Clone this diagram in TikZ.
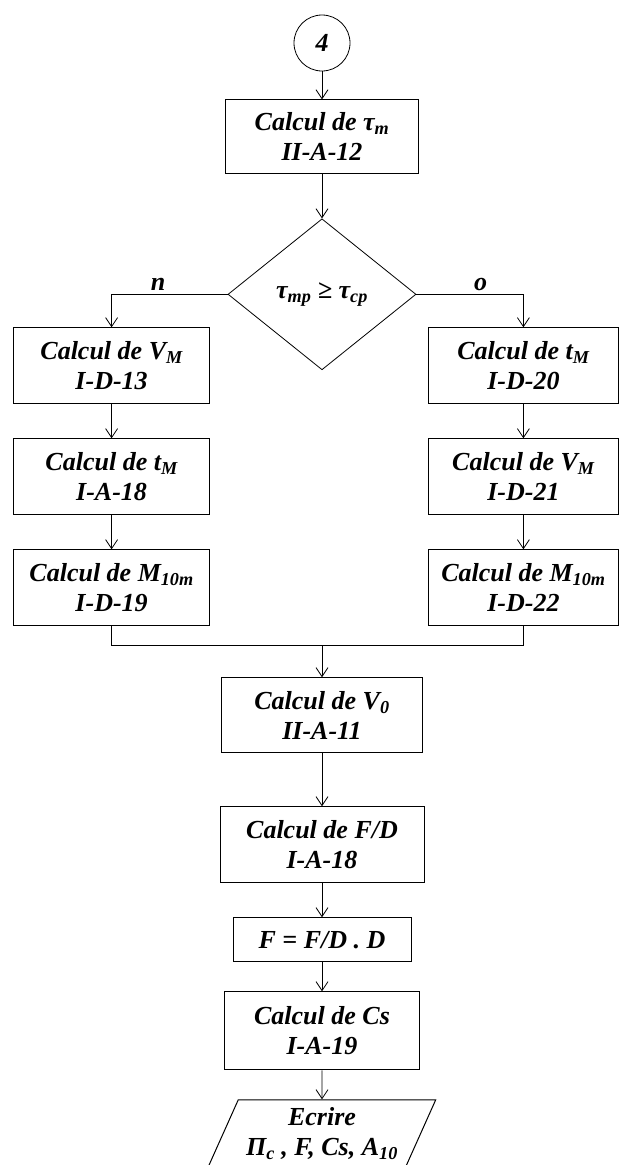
\documentclass[tikz,border=0pt]{standalone}
\usepackage{fontspec}
\setmainfont{Liberation Serif}
\usetikzlibrary{arrows.meta,positioning,shapes.geometric}

\begin{document}
\begin{tikzpicture}[
x=1pt, y=1pt,
font=\bfseries\itshape\fontsize{26}{30}\selectfont,
box/.style={draw, line width=1pt, align=center, minimum width=196pt, minimum height=76pt, inner sep=2pt},
decision/.style={draw, diamond, line width=0.8pt, minimum width=188pt, minimum height=151pt, inner sep=1pt},
io/.style={draw, trapezium, trapezium left angle=63, trapezium right angle=117, trapezium stretches=true, line width=1pt, align=center, minimum width=228pt, minimum height=67pt, inner sep=1pt},
conn/.style={draw, circle, line width=0.8pt, minimum size=56pt, inner sep=0pt},
arrow/.style={-{Straight Barb[length=9pt, width=12pt]}, line width=0.8pt},
link/.style={line width=0.8pt}
]
\useasboundingbox (0,0) rectangle (620,-1165);

\node[conn] (start) at (322,-43) {4};
\node[box, minimum width=193pt, minimum height=74pt, below=28pt of start] (taum) {Calcul de τ\textsubscript{m}\\II-A-12};
\node[decision, below=44pt of taum] (test) {τ\textsubscript{mp} ≥ τ\textsubscript{cp}};

% branche n
\node[box, below=33pt of test.west, xshift=-116pt] (vmn) {Calcul de V\textsubscript{M}\\I-D-13};
\node[box, below=34pt of vmn] (tmn) {Calcul de t\textsubscript{M}\\I-A-18};
\node[box, below=34pt of tmn] (mn) {Calcul de M\textsubscript{10m}\\I-D-19};

% branche o
\node[box, minimum width=190pt, below=33pt of test.east, xshift=107pt] (tmo) {Calcul de t\textsubscript{M}\\I-D-20};
\node[box, minimum width=190pt, below=34pt of tmo] (vmo) {Calcul de V\textsubscript{M}\\I-D-21};
\node[box, minimum width=190pt, below=34pt of vmo] (mo) {Calcul de M\textsubscript{10m}\\I-D-22};

\coordinate[below=19pt of mn] (jl);
\coordinate[below=19pt of mo] (jr);
\coordinate (jm) at (jl -| test);

\node[box, minimum width=201pt, minimum height=75pt, below=32pt of jm] (vzero) {Calcul de V\textsubscript{0}\\II-A-11};
\node[box, minimum width=204pt, below=53pt of vzero] (fd) {Calcul de F/D\\I-A-18};
\node[box, minimum width=178pt, minimum height=44pt, below=34pt of fd] (force) {F = F/D . D};
\node[box, minimum width=195pt, minimum height=78pt, below=29pt of force] (cs) {Calcul de Cs\\I-A-19};
\node[io, below=29pt of cs] (out) {Ecrire\\Π\textsubscript{c} , F, Cs, A\textsubscript{10}};

\draw[arrow] (start) -- (taum);
\draw[arrow] (taum) -- (test);
\draw[arrow] (test.west) -| node[pos=0.3, above] {n} (vmn);
\draw[arrow] (test.east) -| node[pos=0.3, above] {o} (tmo);
\draw[arrow] (vmn) -- (tmn);
\draw[arrow] (tmn) -- (mn);
\draw[arrow] (tmo) -- (vmo);
\draw[arrow] (vmo) -- (mo);
\draw[link] (mn) -- (jl) -- (jr) -- (mo);
\draw[arrow] (jm) -- (vzero);
\draw[arrow] (vzero) -- (fd);
\draw[arrow] (fd) -- (force);
\draw[arrow] (force) -- (cs);
\draw[arrow] (cs) -- (out);
\end{tikzpicture}
\end{document}
